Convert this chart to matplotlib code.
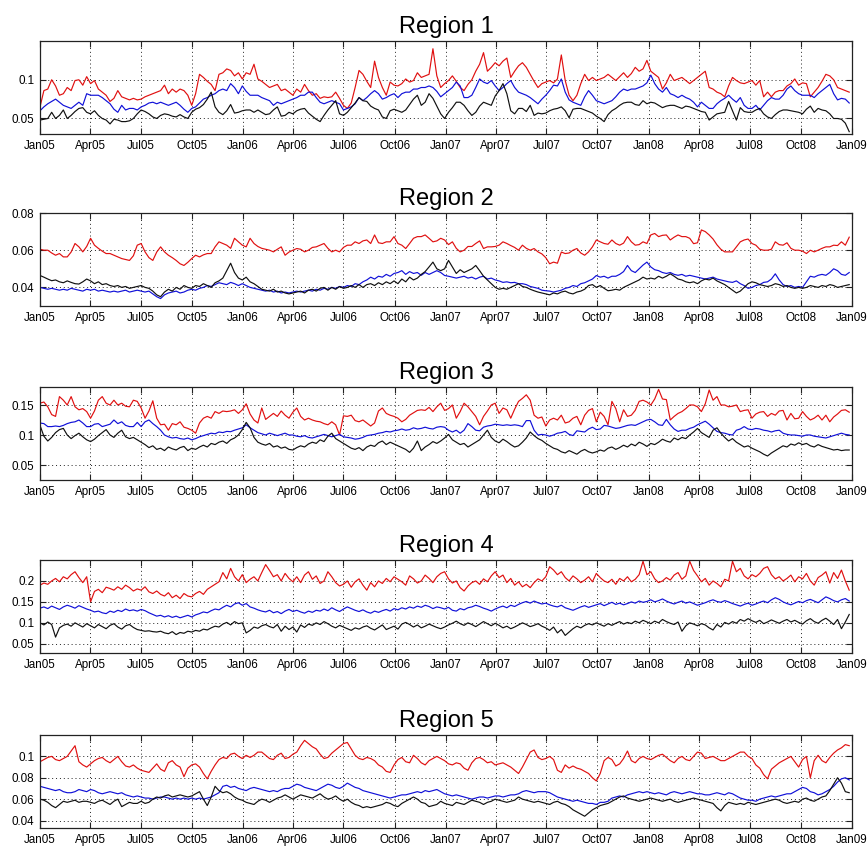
import numpy as np
import pandas as pd
import matplotlib
matplotlib.use("Agg")
import matplotlib.pyplot as plt
import matplotlib.dates as mdates
from matplotlib.ticker import FuncFormatter

plt.rcParams["font.family"] = ["Liberation Sans", "DejaVu Sans"]

# weekly values from the first week of 2005, in units of 1e-3
start_date = "2005-01-01"

r1_red = [
    65, 86, 88, 100, 92, 80, 82, 90, 86, 99, 100, 93, 104,
    95, 99, 88, 84, 80, 72, 76, 86, 78, 76, 74, 76, 74,
    75, 78, 80, 82, 84, 86, 93, 82, 88, 84, 88, 86, 80,
    67, 82, 107, 103, 98, 94, 86, 107, 109, 114, 112, 105, 109,
    101, 109, 107, 120, 101, 98, 94, 90, 92, 94, 86, 88, 84,
    80, 88, 84, 94, 86, 80, 82, 76, 78, 77, 78, 84, 76,
    67, 63, 70, 90, 112, 107, 98, 90, 124, 103, 90, 80, 97,
    93, 92, 95, 101, 97, 99, 109, 103, 105, 107, 140, 105, 90,
    95, 99, 105, 98, 90, 86, 94, 100, 111, 120, 135, 111, 116,
    122, 118, 124, 128, 103, 111, 118, 122, 116, 107, 98, 90, 95,
    97, 99, 96, 101, 132, 99, 80, 73, 80, 95, 107, 99, 103,
    99, 101, 103, 107, 103, 99, 104, 109, 103, 108, 116, 111, 114,
    125, 111, 107, 103, 88, 96, 107, 99, 101, 103, 99, 95, 99,
    103, 107, 111, 90, 88, 84, 82, 78, 92, 103, 99, 96, 95,
    97, 99, 93, 99, 78, 84, 78, 84, 86, 86, 92, 95, 101,
    93, 96, 95, 78, 84, 90, 98, 107, 105, 100, 90, 88, 86, 84,
]
r1_blue = [
    60, 65, 69, 72, 75, 71, 67, 65, 63, 67, 71, 67, 82,
    80, 80, 80, 77, 73, 69, 62, 58, 67, 61, 63, 63, 61,
    65, 67, 70, 71, 69, 71, 69, 67, 69, 71, 67, 62, 58,
    63, 65, 70, 75, 77, 80, 82, 86, 88, 86, 95, 90, 82,
    92, 85, 80, 80, 80, 77, 75, 73, 67, 71, 69, 71, 73,
    75, 77, 80, 80, 84, 84, 77, 71, 69, 71, 73, 71, 69,
    61, 63, 65, 69, 77, 73, 77, 82, 86, 82, 75, 77, 80,
    82, 77, 82, 84, 84, 88, 88, 90, 90, 92, 90, 85, 78,
    82, 86, 90, 97, 92, 77, 77, 80, 90, 101, 97, 95, 99,
    92, 86, 90, 95, 99, 90, 84, 82, 80, 77, 73, 69, 75,
    80, 86, 93, 92, 101, 84, 74, 71, 69, 67, 78, 86, 80,
    73, 71, 69, 71, 73, 78, 84, 88, 86, 88, 88, 90, 92,
    96, 106, 95, 88, 84, 90, 82, 80, 77, 80, 77, 75, 71,
    65, 71, 67, 63, 63, 69, 73, 76, 80, 75, 71, 77, 67,
    63, 63, 67, 61, 67, 73, 77, 75, 75, 80, 88, 92, 86,
    82, 80, 80, 80, 77, 82, 86, 90, 94, 82, 74, 76, 75, 70,
]
r1_black = [
    48, 49, 50, 58, 50, 54, 61, 50, 54, 59, 63, 64, 58,
    56, 60, 54, 50, 48, 43, 49, 48, 46, 46, 47, 50, 56,
    61, 59, 56, 52, 50, 54, 56, 55, 53, 52, 55, 52, 50,
    58, 62, 64, 68, 75, 84, 65, 58, 55, 60, 68, 57, 58,
    60, 61, 61, 58, 61, 58, 55, 56, 61, 65, 53, 54, 58,
    56, 60, 62, 63, 57, 53, 49, 46, 54, 61, 67, 73, 56,
    54, 58, 64, 70, 77, 73, 72, 66, 63, 61, 52, 50, 60,
    62, 60, 58, 61, 68, 75, 80, 67, 71, 82, 76, 66, 56,
    50, 58, 64, 71, 71, 67, 60, 54, 58, 66, 71, 69, 67,
    79, 86, 95, 82, 60, 56, 63, 63, 59, 67, 54, 57, 56,
    57, 60, 62, 63, 65, 60, 51, 62, 63, 63, 61, 59, 57,
    53, 50, 46, 55, 60, 63, 67, 70, 71, 71, 68, 67, 73,
    69, 71, 70, 67, 64, 66, 67, 67, 65, 63, 66, 65, 63,
    61, 59, 58, 48, 52, 56, 57, 58, 72, 60, 48, 64, 59,
    58, 58, 61, 63, 56, 52, 50, 55, 59, 61, 61, 60, 59,
    58, 56, 62, 66, 58, 63, 61, 60, 56, 50, 50, 49, 44, 33,
]

r2_red = [
    60.5, 60, 60, 58.5, 57.3, 58.2, 56.4, 56.4, 59, 63.6, 61.8, 59.1, 62,
    66.4, 62.7, 61, 59.5, 58.2, 58.2, 57.3, 56.4, 55.5, 55, 54.5, 57, 62.7,
    63.6, 59.1, 56, 54.5, 59, 61.8, 59.1, 57.3, 56, 54.5, 52.7, 51.8, 53.5,
    55.5, 57.3, 56.4, 57.5, 58.2, 58.2, 61.8, 64.5, 63.6, 62.7, 61, 66.4, 64.5,
    62.7, 61.8, 66.4, 63.6, 62, 61, 60.5, 60, 59.1, 60.5, 61.8, 57.3, 59,
    60, 60.9, 60.5, 59.1, 60, 61.5, 61.8, 62.7, 63.6, 61, 59.1, 60, 59.1,
    61.5, 62.7, 62.7, 64.5, 63.6, 65, 65.5, 63.6, 68.2, 64, 63.6, 64.5, 64.5,
    67.3, 63.6, 62.7, 60.9, 63.6, 66.4, 67.3, 67.3, 68.2, 66.4, 64.5, 65, 66.4,
    65.5, 63, 64.5, 61, 59.1, 60, 62, 62, 63.6, 65, 60.9, 61.8, 61.8,
    62, 62.7, 64.5, 63.6, 62.5, 61.5, 60, 62.7, 61, 60, 60.9, 59.1, 58,
    56, 52.7, 53.6, 53, 59, 58.2, 58.5, 60, 60.9, 58.5, 57.3, 59.1, 61.8,
    65.5, 64.5, 63.6, 63.2, 65.5, 63.6, 62.7, 63.8, 67.3, 64.5, 62.7, 63, 64.5,
    63.6, 68.2, 69, 67.3, 68, 68.2, 65.5, 67, 68.2, 67.3, 67.3, 66.4, 63.5,
    64, 70.9, 70, 68.2, 66, 62.9, 60.5, 59.1, 59.1, 59.1, 61.8, 64.5, 65.5,
    66, 63.6, 62.7, 60.5, 60, 60, 60.5, 64.5, 63, 62.7, 64, 61, 60,
    60, 59.5, 58.2, 60, 59.1, 60, 61, 61.8, 61.8, 62.7, 62.5, 64.5, 62.7, 67,
]
r2_blue = [
    40, 39.5, 39, 39.5, 39, 38.5, 39, 38.5, 39.5, 39, 38.5, 38, 39,
    38.5, 39, 38, 38.5, 38, 37.5, 38, 37.5, 38, 38.5, 37.5, 38, 38.5,
    38, 37.5, 38, 36.5, 35, 34, 36, 37, 37.5, 38, 37, 37.5, 38.5,
    39, 38.5, 39.5, 40, 41, 40.5, 41.5, 42.5, 42, 41.5, 42.7, 42, 41,
    42, 41, 40, 39.5, 39, 38.5, 38, 38.5, 37.5, 38, 37, 37.5, 37,
    37.5, 38, 37.5, 38, 38.5, 38, 39, 38.5, 39.5, 39, 40, 39.5, 40.5,
    40, 41, 40.5, 42, 41.5, 43, 44, 45.5, 44.5, 46, 45.5, 47, 46,
    47.5, 48, 49, 47, 48.5, 47.5, 48, 46.5, 48, 47, 48, 49, 48,
    46.4, 46, 45.5, 45, 45.5, 46, 45, 45.5, 44.5, 45.5, 46, 44.5, 45,
    44, 43.5, 42.7, 43, 42.5, 42.7, 42, 42, 41.5, 40.5, 40, 39.5, 38.5,
    38.2, 38, 37.5, 38, 38.5, 39.5, 40, 41, 40.5, 42, 42.5, 43.5, 44.5,
    46.4, 45.5, 46, 45, 46, 46, 47, 48.5, 51.8, 49, 48, 50, 52,
    53.6, 51, 49.5, 49, 48, 47.5, 48, 47, 46.5, 47, 46, 46.5, 46,
    45.5, 45, 44.5, 45, 45.5, 44.5, 44, 43.5, 43, 42.7, 43.5, 42, 41,
    39.5, 40, 41, 41.5, 42.7, 43, 44.5, 47.3, 44, 41.5, 40.5, 41, 40,
    40.5, 40, 43, 46, 45.5, 46.5, 47, 46.5, 48, 50, 49, 47, 46.5, 48,
]
r2_black = [
    46.4, 45.5, 44.5, 43.6, 44, 43, 42.5, 43.5, 42.7, 42, 41.8, 43, 44.5,
    43.5, 42, 43, 41.5, 42, 41, 40.5, 41, 40, 40.5, 39.5, 40, 40.5,
    41, 40, 39.5, 38, 36, 35, 37.5, 39, 38, 40, 39, 41, 40,
    39.5, 41, 40.5, 42, 41, 40, 42.5, 43.5, 45, 49, 53, 48, 45,
    44, 45.5, 43, 42, 40.5, 39, 38.5, 38, 39, 37.5, 38, 37, 36.5,
    37, 37.5, 38, 37, 38.5, 39, 38, 39.5, 40, 38.5, 40, 39, 40.5,
    39.5, 40, 41, 40, 41.5, 40, 41.5, 42, 41, 42.5, 41.5, 43, 42,
    43.5, 42, 44.5, 43, 45.5, 44, 45, 47, 48.5, 51, 53.6, 50, 49,
    50, 54.5, 51, 47.5, 49.5, 48, 49, 50, 51.8, 49, 46, 44, 42,
    40, 39, 39.5, 39, 40, 41, 42, 40.5, 40, 39, 38.2, 37.5, 37,
    36.5, 36, 37, 36.5, 37.5, 38, 37, 36.5, 37.5, 38, 39, 41, 41.5,
    40, 41, 39.5, 38.2, 38.5, 39, 38.5, 40, 41, 42, 43, 44, 45.5,
    44.5, 45, 44.5, 46, 45, 46, 47.3, 46, 44.5, 44, 43, 42.5, 43,
    42, 43.5, 44.5, 44, 45, 43.5, 42.5, 41.5, 40, 38.5, 37, 38, 40,
    42, 43, 42.5, 41.5, 41, 40.5, 41, 42, 41.5, 40.5, 41, 40, 39.5,
    40, 39.5, 40, 41, 40.5, 40, 41, 40.5, 41.5, 41, 40, 40.5, 41, 41.5,
]

r3_red = [
    153, 155, 147, 134, 131, 164, 158, 150, 164, 147, 142, 144, 139,
    128, 140, 158, 164, 153, 150, 158, 150, 153, 148, 147, 158, 156,
    145, 128, 140, 157, 128, 117, 118, 108, 119, 117, 122, 113, 111,
    108, 103, 120, 128, 131, 128, 139, 136, 140, 139, 140, 142, 136,
    142, 152, 135, 125, 120, 145, 126, 131, 136, 131, 140, 133, 128,
    138, 145, 131, 125, 128, 125, 123, 122, 119, 117, 122, 117, 100,
    132, 131, 133, 124, 122, 125, 120, 115, 120, 140, 145, 136, 133,
    131, 128, 122, 126, 133, 137, 141, 142, 141, 146, 139, 147, 153,
    141, 144, 150, 128, 139, 153, 147, 139, 131, 117, 131, 140, 150,
    153, 136, 145, 142, 128, 143, 156, 161, 167, 158, 133, 128, 130,
    115, 125, 128, 125, 133, 120, 122, 128, 131, 117, 133, 141, 144,
    122, 138, 131, 117, 156, 144, 122, 142, 131, 133, 141, 156, 158,
    155, 150, 160, 176, 160, 159, 125, 131, 136, 139, 144, 150, 150,
    147, 139, 152, 175, 158, 164, 150, 150, 147, 148, 150, 139, 141,
    142, 128, 135, 138, 139, 131, 136, 133, 140, 141, 125, 136, 127,
    128, 139, 131, 125, 128, 133, 125, 133, 122, 130, 135, 141, 142, 138,
]
r3_blue = [
    120, 119, 114, 114, 115, 114, 116, 119, 121, 122, 125, 120, 114,
    114, 118, 119, 114, 116, 118, 125, 119, 122, 116, 114, 114, 121,
    114, 122, 125, 119, 114, 108, 100, 97, 95, 96, 94, 93, 95,
    92, 94, 97, 99, 101, 103, 102, 105, 104, 106, 105.5, 108, 110,
    112, 117, 112, 108, 104, 102, 100, 103, 101, 99, 101, 103, 100,
    100, 98, 97, 99, 96, 95, 97, 99, 101, 99, 97, 99, 101,
    97, 96, 95, 93, 94, 96, 99, 100, 101, 103, 104, 106, 105,
    107, 108, 110, 108, 109, 112, 110, 111, 113, 111, 110, 113, 114,
    113, 108, 105, 108, 103, 108, 119, 114, 108, 107, 113, 115, 116,
    118, 117, 116, 117, 116, 117, 116, 114, 124, 124, 108, 100, 101,
    100, 98, 100, 103, 104, 106, 101, 99, 107, 106, 105, 110, 113,
    109, 110, 116, 115, 113, 111, 112, 114, 116, 117, 116, 119, 122,
    125, 126, 122, 117, 116, 126, 117, 110, 106, 108, 108, 111, 113,
    117, 120, 123, 118, 112, 106, 104, 103, 101, 100, 108, 110, 114,
    110, 109, 111, 110, 108, 107, 105, 107, 108, 103, 101, 100, 100,
    99, 98, 100, 100, 98, 97, 96, 95, 97, 99, 101, 103, 101, 100,
]
r3_black = [
    116, 98, 90, 96, 104, 109, 111, 100, 94, 99, 103, 97, 92,
    89, 93, 99, 104, 109, 100, 96, 103, 108, 97, 94, 96, 92,
    88, 84, 79, 82, 76, 78, 74, 80, 77, 75, 79, 81, 74,
    78, 76, 80, 83, 80, 86, 84, 88, 90, 86, 92, 95, 100,
    109, 121, 112, 96, 88, 85, 83, 86, 80, 82, 78, 80, 76,
    75, 79, 82, 80, 85, 88, 86, 92, 89, 98, 103, 94, 90,
    86, 82, 78, 76, 79, 74, 80, 83, 81, 87, 90, 84, 88,
    85, 82, 79, 76, 71, 78, 90, 74, 80, 84, 89, 86, 90,
    95, 101, 92, 88, 84, 86, 80, 84, 88, 92, 100, 108, 96,
    90, 87, 93, 89, 84, 80, 82, 88, 95, 105, 99, 94, 91,
    86, 82, 78, 76, 72, 70, 74, 71, 68, 73, 76, 72, 70,
    72, 75, 73, 78, 80, 76, 79, 83, 80, 85, 82, 88, 85,
    81, 86, 84, 88, 93, 90, 88, 95, 92, 96, 94, 100, 105,
    111, 104, 100, 96, 108, 112, 103, 96, 90, 94, 88, 84, 80,
    82, 78, 75, 72, 68, 65, 70, 74, 78, 82, 80, 85, 83,
    87, 84, 86, 82, 80, 84, 81, 79, 77, 75, 76, 74, 75, 75,
]

r4_red = [
    190, 195, 192, 200, 206, 198, 210, 205, 215, 222, 208, 196, 210,
    150, 175, 180, 172, 185, 182, 178, 186, 180, 190, 184, 176, 181,
    178, 186, 174, 170, 176, 168, 164, 172, 160, 166, 158, 170, 164,
    162, 170, 175, 168, 180, 186, 192, 198, 220, 205, 230, 210, 200,
    215, 196, 204, 210, 200, 220, 239, 225, 210, 215, 200, 218, 206,
    198, 210, 196, 214, 222, 204, 212, 194, 200, 222, 210, 196, 188,
    192, 200, 185, 198, 205, 190, 178, 196, 186, 200, 194, 206, 198,
    210, 204, 198, 190, 212, 205, 195, 200, 214, 206, 196, 210, 218,
    222, 205, 195, 200, 184, 176, 188, 196, 200, 192, 205, 198, 212,
    222, 208, 214, 196, 206, 190, 198, 186, 192, 184, 196, 205, 200,
    210, 234, 226, 215, 222, 208, 200, 212, 205, 196, 202, 210, 198,
    218, 208, 200, 196, 204, 192, 206, 200, 210, 198, 204, 215, 247,
    215, 222, 205, 196, 200, 208, 202, 214, 220, 204, 212, 247, 225,
    212, 198, 206, 190, 200, 194, 186, 204, 200, 247, 222, 230, 212,
    205, 215, 210, 218, 230, 234, 215, 205, 210, 200, 206, 214, 198,
    210, 205, 218, 200, 190, 208, 214, 222, 195, 220, 206, 226, 200, 178,
]
r4_blue = [
    135, 138, 134, 140, 136, 132, 138, 142, 139, 135, 141, 137, 133,
    130, 126, 128, 124, 122, 128, 125, 130, 127, 133, 129, 131, 128,
    132, 129, 124, 120, 116, 118, 114, 117, 113, 116, 112, 115, 118,
    114, 119, 122, 126, 124, 129, 133, 131, 137, 142, 138, 145, 148,
    142, 146, 138, 135, 131, 128, 126, 130, 124, 127, 122, 128, 132,
    127, 130, 126, 123, 128, 125, 130, 128, 133, 129, 136, 131, 127,
    133, 138, 134, 130, 127, 131, 126, 123, 128, 125, 129, 132, 128,
    134, 131, 136, 133, 138, 135, 140, 137, 142, 139, 134, 138, 136,
    133, 137, 130, 128, 134, 131, 136, 138, 142, 139, 135, 132, 128,
    133, 137, 140, 136, 142, 139, 144, 148, 151, 147, 152, 148, 145,
    147, 143, 140, 138, 142, 136, 133, 130, 134, 138, 141, 137, 140,
    143, 146, 141, 145, 149, 144, 147, 143, 146, 150, 147, 152, 149,
    151, 155, 150, 153, 157, 152, 148, 145, 149, 152, 147, 150, 146,
    142, 145, 148, 152, 155, 151, 149, 153, 150, 146, 143, 140, 144,
    147, 142, 145, 149, 152, 148, 155, 160, 156, 150, 146, 143, 147,
    151, 148, 153, 156, 152, 148, 155, 162, 158, 153, 150, 155, 158, 152,
]
r4_black = [
    100, 95, 102, 96, 66, 88, 94, 97, 92, 100, 95, 90, 98,
    93, 88, 96, 91, 86, 94, 98, 90, 85, 93, 96, 89, 84,
    82, 80, 81, 79, 78, 80, 76, 74, 79, 72, 77, 75, 80,
    78, 82, 80, 85, 83, 88, 92, 90, 97, 101, 95, 103, 98,
    100, 76, 82, 90, 87, 93, 96, 91, 88, 96, 80, 92, 84,
    90, 78, 95, 89, 97, 94, 100, 96, 103, 98, 92, 88, 94,
    90, 86, 82, 88, 85, 90, 93, 87, 83, 89, 95, 84, 88,
    92, 85, 97, 101, 96, 90, 95, 88, 92, 97, 93, 89, 86,
    90, 95, 99, 104, 98, 94, 100, 96, 91, 97, 103, 98, 93,
    99, 94, 88, 92, 86, 90, 95, 100, 96, 91, 94, 98, 92,
    88, 82, 90, 76, 84, 70, 78, 86, 92, 88, 94, 98, 95,
    100, 96, 92, 98, 94, 99, 103, 97, 101, 98, 104, 100, 106,
    102, 98, 104, 100, 108, 103, 99, 96, 102, 80, 93, 100, 97,
    93, 98, 95, 88, 83, 96, 90, 101, 97, 103, 99, 108, 104,
    110, 105, 101, 106, 98, 102, 107, 103, 99, 104, 108, 102, 106,
    101, 97, 105, 110, 103, 99, 106, 111, 104, 96, 108, 86, 102, 120,
]

r5_red = [
    95, 97, 99, 100, 97, 96, 98, 100, 105, 110, 95, 92, 90,
    93, 96, 98, 99, 96, 94, 97, 100, 95, 91, 90, 92, 89,
    87, 86, 85, 89, 93, 88, 86, 94, 96, 92, 90, 81, 89,
    92, 93, 90, 84, 79, 86, 92, 97, 99, 98, 102, 103, 100,
    98, 101, 99, 101, 104, 104, 101, 98, 97, 101, 103, 98, 99,
    102, 104, 110, 115, 112, 109, 107, 102, 98, 99, 103, 106, 109,
    112, 113, 107, 101, 98, 97, 99, 98, 96, 92, 90, 86, 85,
    92, 97, 99, 95, 94, 101, 98, 94, 92, 96, 98, 100, 98,
    96, 93, 92, 94, 93, 89, 87, 94, 98, 99, 97, 94, 95,
    92, 93, 94, 92, 90, 87, 84, 90, 97, 104, 106, 99, 97,
    98, 100, 97, 87, 85, 92, 89, 91, 89, 88, 86, 84, 80,
    77, 84, 96, 99, 97, 91, 93, 98, 105, 96, 94, 98, 100,
    98, 97, 99, 101, 102, 99, 96, 94, 98, 100, 97, 96, 100,
    104, 103, 98, 99, 100, 98, 96, 96, 98, 100, 102, 104, 104,
    100, 98, 92, 89, 83, 79, 88, 91, 94, 96, 98, 100, 95,
    90, 97, 100, 80, 96, 101, 96, 94, 99, 103, 106, 108, 111, 110,
]
r5_blue = [
    72, 71, 70, 69, 68, 69, 67, 66, 66, 67, 69, 68, 67,
    69, 68, 66, 65, 66, 67, 66, 65, 66, 64, 63, 62, 63,
    62, 61, 61, 60, 61, 62, 62, 61, 60, 61, 60, 61, 60,
    61, 60, 61, 60, 61, 62, 64, 66, 72, 73, 71, 72, 70,
    69, 68, 70, 71, 70, 69, 68, 67, 68, 67, 69, 70, 70,
    72, 74, 73, 71, 70, 69, 68, 70, 72, 74, 73, 71, 70,
    72, 75, 73, 71, 70, 68, 67, 66, 65, 64, 63, 62, 61,
    62, 63, 64, 64, 65, 66, 67, 66, 68, 67, 68, 69, 67,
    65, 64, 63, 64, 63, 62, 61, 60, 61, 62, 62, 61, 62,
    63, 63, 62, 63, 64, 64, 65, 67, 68, 67, 66, 67, 67,
    67, 66, 64, 62, 61, 60, 59, 58, 59, 58, 57, 56, 56,
    55, 57, 57, 58, 61, 62, 63, 62, 64, 65, 66, 67, 66,
    67, 66, 65, 66, 65, 64, 66, 67, 66, 65, 66, 67, 66,
    65, 65, 64, 64, 65, 66, 65, 64, 66, 65, 63, 61, 60,
    59, 59, 58, 60, 61, 62, 63, 62, 63, 64, 65, 65, 67,
    69, 71, 70, 67, 66, 64, 65, 67, 69, 72, 76, 79, 80, 78,
]
r5_black = [
    60, 59, 57, 54, 52, 55, 58, 57, 58, 59, 57, 58, 58,
    57, 56, 58, 59, 57, 55, 58, 60, 53, 55, 57, 56, 56,
    58, 56, 57, 60, 62, 61, 63, 64, 62, 63, 64, 63, 62,
    63, 65, 67, 60, 54, 62, 72, 68, 66, 67, 65, 62, 60,
    59, 57, 56, 55, 58, 60, 59, 57, 59, 61, 62, 64, 62,
    60, 62, 64, 63, 62, 61, 63, 65, 62, 60, 61, 63, 60,
    58, 60, 57, 55, 54, 52, 53, 52, 53, 54, 55, 57, 56,
    54, 53, 56, 58, 60, 62, 60, 57, 56, 53, 54, 55, 58,
    56, 55, 54, 57, 56, 55, 57, 59, 58, 57, 55, 57, 58,
    60, 59, 58, 57, 58, 59, 62, 60, 59, 58, 57, 58, 57,
    56, 55, 57, 58, 56, 55, 53, 50, 48, 46, 44, 47, 50,
    52, 54, 55, 56, 58, 60, 62, 63, 61, 60, 59, 58, 59,
    60, 61, 60, 59, 58, 59, 60, 58, 57, 58, 59, 60, 61,
    60, 59, 58, 57, 56, 52, 49, 54, 57, 56, 55, 56, 55,
    57, 56, 55, 56, 57, 58, 59, 60, 59, 57, 56, 57, 58,
    57, 60, 61, 59, 58, 60, 62, 63, 68, 74, 80, 75, 67, 66,
]

titles = ["Region 1", "Region 2", "Region 3", "Region 4", "Region 5"]
series = [
    (r1_red, r1_blue, r1_black),
    (r2_red, r2_blue, r2_black),
    (r3_red, r3_blue, r3_black),
    (r4_red, r4_blue, r4_black),
    (r5_red, r5_blue, r5_black),
]
y_limits = [(0.03, 0.15), (0.03, 0.08), (0.025, 0.18), (0.028, 0.25), (0.033, 0.12)]
y_ticks = [
    [0.05, 0.1],
    [0.04, 0.06, 0.08],
    [0.05, 0.1, 0.15],
    [0.05, 0.1, 0.15, 0.2],
    [0.04, 0.06, 0.08, 0.1],
]
line_colors = ["#e01010", "#1010d8", "#101010"]

W, H = 868, 846
fig = plt.figure(figsize=(W / 100, H / 100), dpi=100)

ax_left, ax_right = 40, 852
ax_h = 93
ax_tops = [41, 213, 387, 560, 735]

x_start = pd.Timestamp("2005-01-01")
x_end = pd.Timestamp("2009-01-01")

for i in range(5):
    top = ax_tops[i]
    ax = fig.add_axes([ax_left / W, 1 - (top + ax_h) / H,
                       (ax_right - ax_left) / W, ax_h / H])

    for vals, col in zip(series[i], line_colors):
        dates = pd.date_range(start_date, periods=len(vals), freq="7D")
        ax.plot(dates, np.array(vals) / 1000.0, color=col, lw=0.85)

    ax.set_xlim(x_start, x_end)
    ax.set_ylim(*y_limits[i])
    ax.set_yticks(y_ticks[i])
    ax.yaxis.set_major_formatter(FuncFormatter(lambda v, p: f"{v:g}"))
    ax.xaxis.set_major_locator(mdates.MonthLocator(bymonth=[1, 4, 7, 10]))
    ax.xaxis.set_major_formatter(mdates.DateFormatter("%b%y"))

    ax.tick_params(direction="in", top=True, right=True, length=4.5,
                   width=0.8, labelsize=8.4, color="#222222")
    ax.tick_params(axis="x", pad=4)
    ax.tick_params(axis="y", pad=4)
    ax.grid(True, color="#222222", linestyle=(0, (1, 3)), linewidth=0.7)
    for sp in ax.spines.values():
        sp.set_linewidth(0.9)
        sp.set_color("#222222")

    ax.set_title(titles[i], fontsize=17, pad=6)

fig.savefig("out.png", dpi=100)
